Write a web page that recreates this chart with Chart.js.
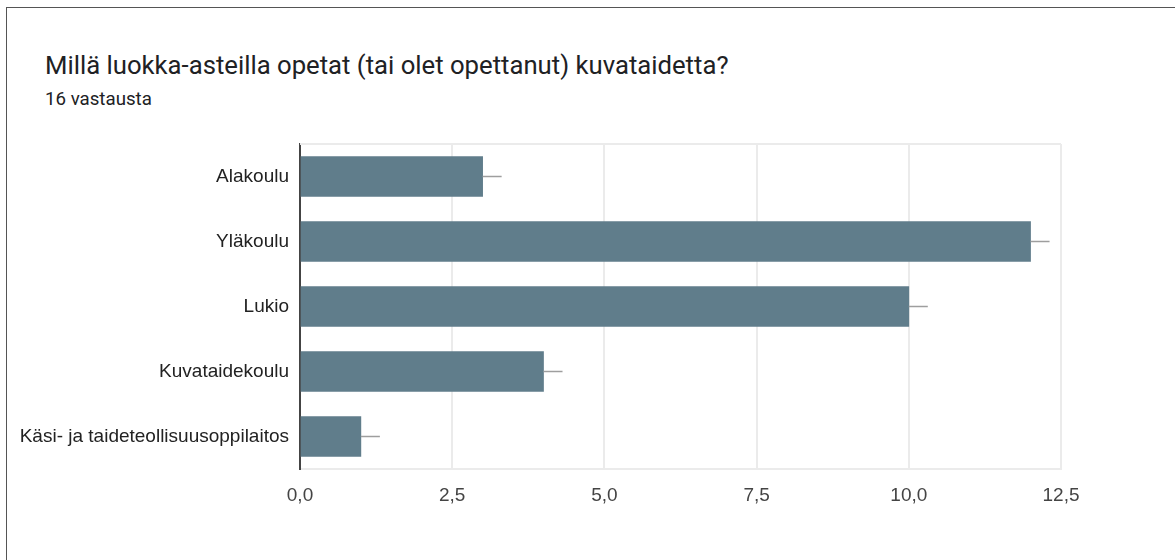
<!DOCTYPE html>
<html>
<head>
<meta charset="utf-8">
<script src="https://cdn.jsdelivr.net/npm/chart.js@4"></script>
<style>
  html, body { margin: 0; padding: 0; background: #fff; }
  body { width: 1175px; height: 560px; position: relative; overflow: hidden; }
  .frame { position: absolute; left: 6px; top: 7px; width: 1200px; height: 600px; border-top: 1px solid #555; border-left: 1px solid #555; }
  .title { position: absolute; left: 45px; top: 50px; font: 25.7px Roboto, sans-serif; color: #202124; white-space: nowrap; }
  .subtitle { position: absolute; left: 45px; top: 88px; font: 18.7px Roboto, sans-serif; color: #202124; white-space: nowrap; }
  #levelChart { position: absolute; left: 0; top: 0; }
</style>
</head>
<body>
<div class="frame"></div>
<div class="title">Millä luokka-asteilla opetat (tai olet opettanut) kuvataidetta?</div>
<div class="subtitle">16 vastausta</div>
<canvas id="levelChart" width="1175" height="560"></canvas>
<script>
// Chart data
const categories = ['Alakoulu', 'Yläkoulu', 'Lukio', 'Kuvataidekoulu', 'Käsi- ja taideteollisuusoppilaitos'];
const answers = [3, 12, 10, 4, 1];
const xTicks = [0, 2.5, 5, 7.5, 10, 12.5];

const fmt = v => v.toFixed(1).replace('.', ',');

// small grey line after each bar end + top border of the plot
const barExtras = {
    id: 'barExtras',
    beforeDatasetsDraw(chart) {
        const { ctx, chartArea } = chart;
        ctx.save();
        ctx.strokeStyle = '#ebebeb';
        ctx.lineWidth = 2;
        ctx.beginPath();
        ctx.moveTo(chartArea.left, chartArea.top);
        ctx.lineTo(chartArea.right, chartArea.top);
        ctx.stroke();
        ctx.restore();
    },
    afterDatasetsDraw(chart) {
        const { ctx } = chart;
        ctx.save();
        ctx.strokeStyle = '#9e9e9e';
        ctx.lineWidth = 1.5;
        chart.getDatasetMeta(0).data.forEach(bar => {
            ctx.beginPath();
            ctx.moveTo(bar.x, bar.y);
            ctx.lineTo(bar.x + 19, bar.y);
            ctx.stroke();
        });
        ctx.restore();
    }
};

const ctx = document.getElementById('levelChart');
new Chart(ctx.getContext('2d'), {
    type: 'bar',
    data: {
        labels: categories,
        datasets: [{
            label: 'Vastaukset',
            data: answers,
            backgroundColor: '#607d8b',
            barThickness: 40
        }]
    },
    options: {
        indexAxis: 'y',
        responsive: false,
        animation: false,
        devicePixelRatio: 1,
        layout: { padding: { top: 144, right: 114, bottom: 0, left: 0 } },
        plugins: { legend: { display: false }, tooltip: { enabled: false } },
        scales: {
            x: {
                min: 0,
                max: 12.5,
                afterBuildTicks: axis => { axis.ticks = xTicks.map(v => ({ value: v })); },
                afterFit: axis => { axis.height = 91; },
                grid: { color: '#ebebeb', lineWidth: 2, drawTicks: false },
                border: { color: '#ebebeb', width: 2 },
                ticks: {
                    padding: 15,
                    color: '#444',
                    font: { family: 'Arial, "Liberation Sans", sans-serif', size: 19 },
                    callback: v => fmt(v)
                }
            },
            y: {
                afterFit: axis => { axis.width = 300; },
                grid: { display: false, drawTicks: false },
                border: { color: '#444', width: 2 },
                ticks: {
                    padding: 11,
                    color: '#222',
                    font: { family: 'Arial, "Liberation Sans", sans-serif', size: 19 }
                }
            }
        }
    },
    plugins: [barExtras]
});
</script>
</body>
</html>
